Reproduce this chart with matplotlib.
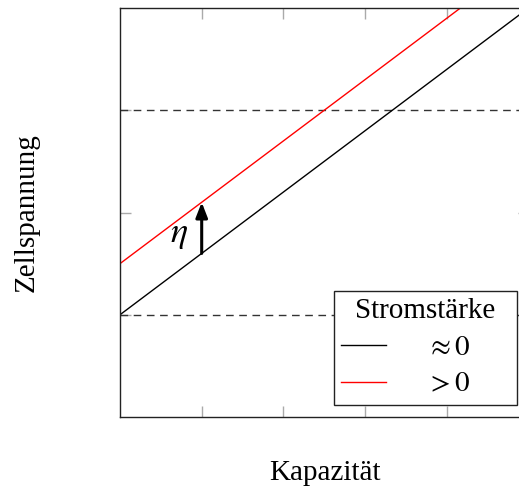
import matplotlib
matplotlib.use("Agg")
import matplotlib.pyplot as plt

plt.rcParams['font.family'] = ['Liberation Serif', 'DejaVu Serif']
plt.rcParams['mathtext.fontset'] = 'stix'

# Data
black_x = [0.0, 5.0]
black_y = [1.0, 4.0]
red_x = [0.0, 5.0]
red_y = [1.5, 4.5]
dash_levels = [1.0, 3.0]
arrow_x = 1.0
arrow_from = 1.6
arrow_to = 2.1
eta_pos = (0.72, 1.78)
x_ticks = [1, 2, 3, 4]
y_ticks = [1, 2, 3]
legend_title = "Stromstärke"
labels = [r"$\approx 0$", r"$> 0$"]

fig = plt.figure(figsize=(5.19, 4.93), dpi=100)
ax = fig.add_axes([120/519, 1-417/493, 408.5/519, 409/493])
ax.set_xlim(0, 5)
ax.set_ylim(0, 4)

for lvl in dash_levels:
    ax.axhline(lvl, color='#333333', lw=1.0, ls=(0, (5.5, 4)))

ax.plot(black_x, black_y, color='black', lw=1.0, label=labels[0])
ax.plot(red_x, red_y, color='red', lw=1.0, label=labels[1])

ax.annotate('', xy=(arrow_x, arrow_to), xytext=(arrow_x, arrow_from),
            arrowprops=dict(arrowstyle='-|>,head_length=0.9,head_width=0.35',
                            color='black', lw=2.2, shrinkA=0, shrinkB=0))
ax.text(eta_pos[0], eta_pos[1], r"$\eta$", fontsize=26, ha='center', va='center')

ax.set_xticks(x_ticks)
ax.set_yticks(y_ticks)
ax.set_xticklabels([])
ax.set_yticklabels([])
ax.tick_params(direction='in', length=8, width=1, color='#aaaaaa',
               top=True, right=True)
for s in ax.spines.values():
    s.set_color('#222222')
    s.set_linewidth(1.0)

ax.set_xlabel("Kapazität", fontsize=21, va='center')
ax.xaxis.set_label_coords(0.502, -0.137)
ax.set_ylabel("Zellspannung", fontsize=21, va='center')
ax.yaxis.set_label_coords(-0.228, 0.5)

leg = ax.legend(title=legend_title, fontsize=21, title_fontsize=21,
                loc='lower left', mode='expand',
                bbox_to_anchor=(214/408.5, 0.0293, 183/408.5, 0.3),
                borderaxespad=0, fancybox=False, framealpha=1,
                edgecolor='#222222', handlelength=1.54, handletextpad=1.37,
                labelspacing=0.35, borderpad=0.25)
leg.get_frame().set_linewidth(1.0)

fig.savefig("out.png", dpi=100)
